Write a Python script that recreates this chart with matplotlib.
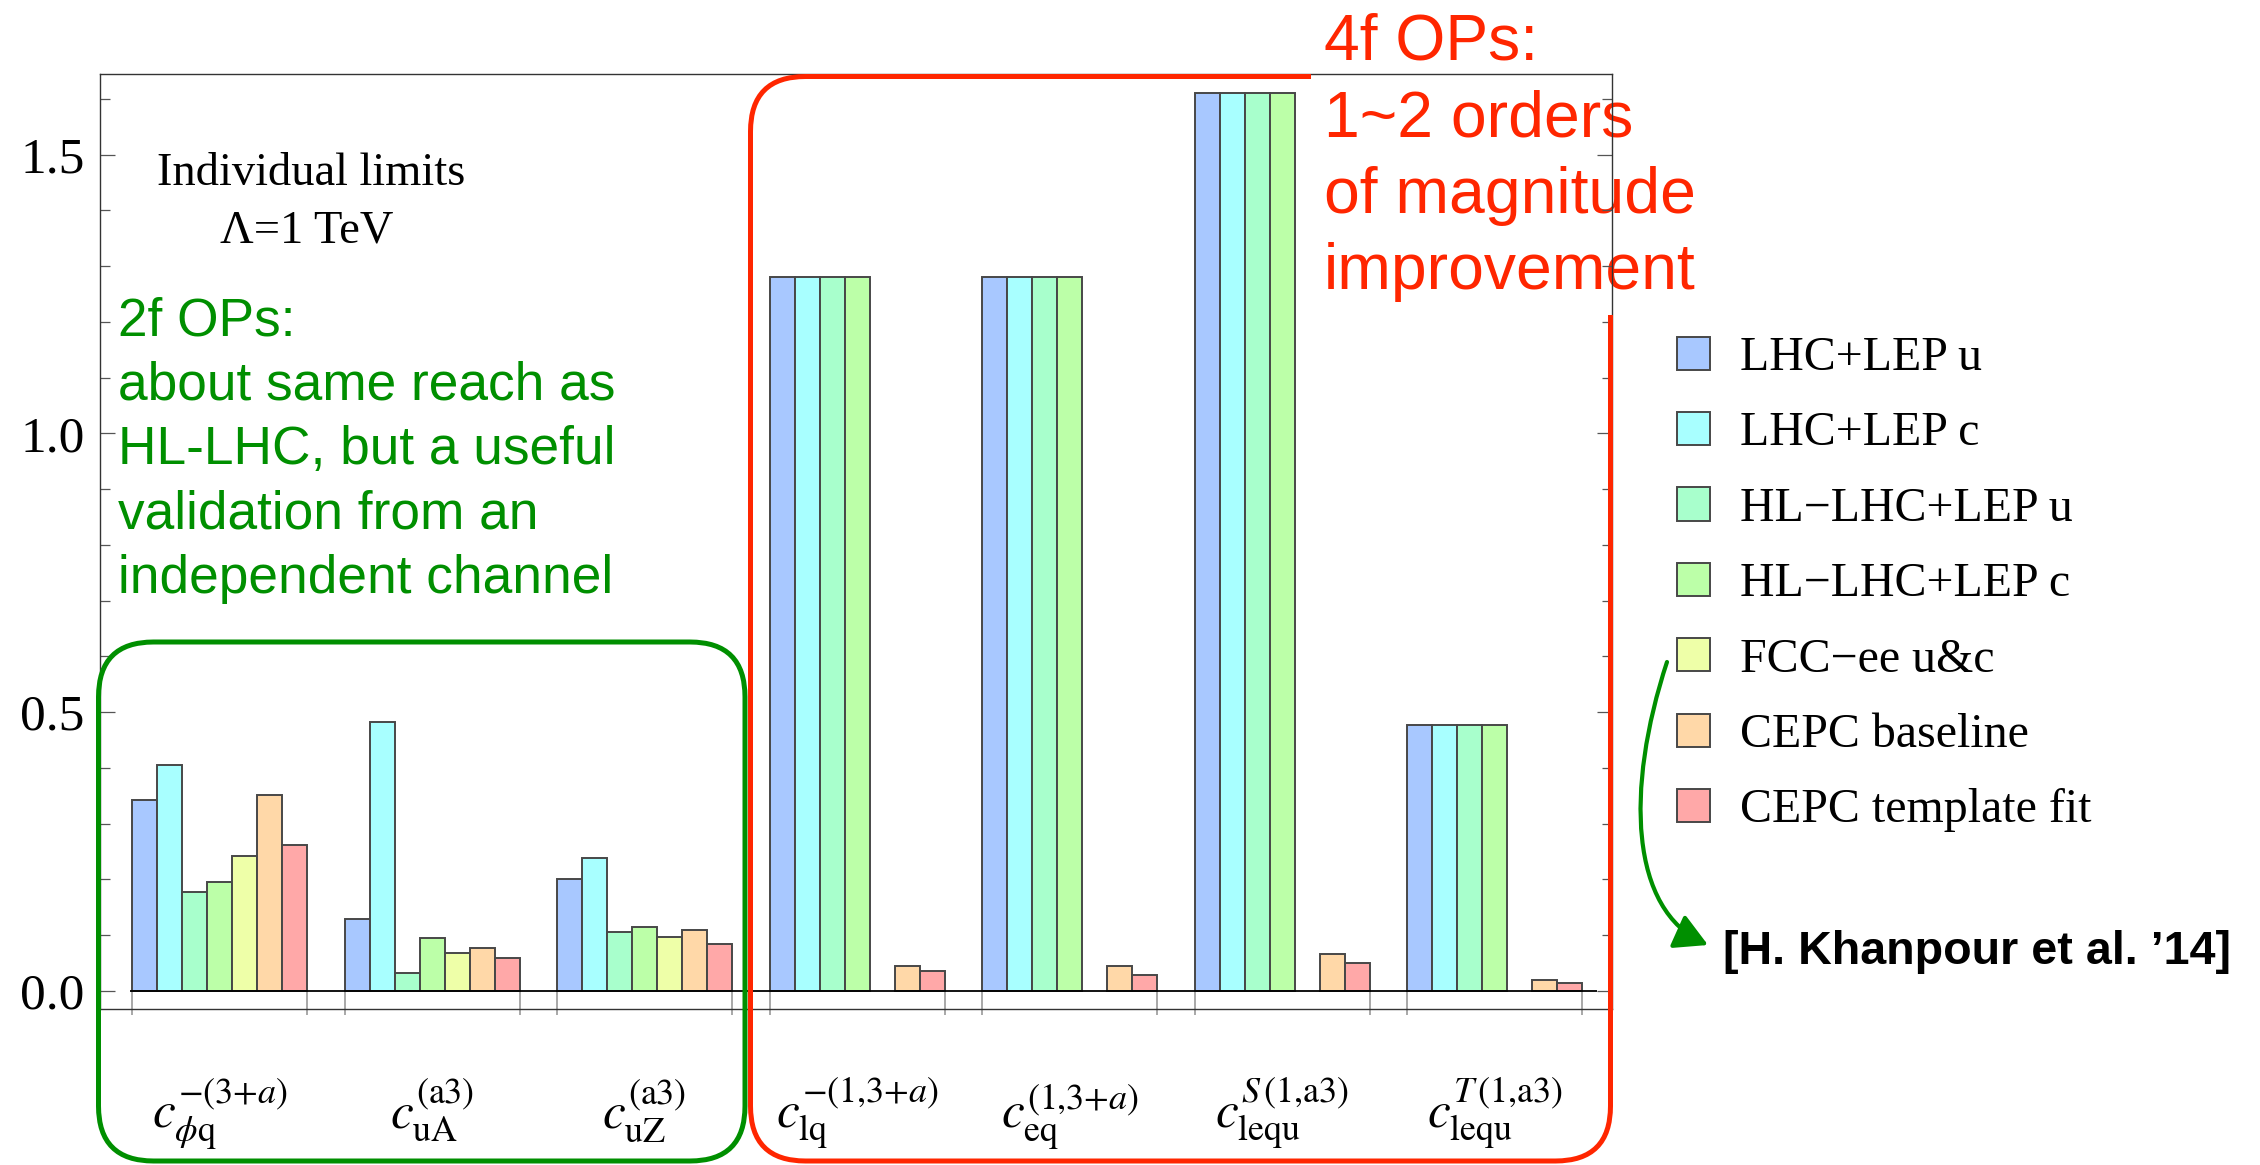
import numpy as np
import matplotlib.pyplot as plt
from matplotlib.patches import FancyBboxPatch, FancyArrowPatch
from matplotlib.path import Path
from matplotlib.ticker import MultipleLocator, FormatStrFormatter
from matplotlib.transforms import IdentityTransform, blended_transform_factory

plt.rcParams['font.family'] = ['Liberation Serif', 'DejaVu Serif']
plt.rcParams['mathtext.fontset'] = 'stix'

W, H = 2260, 1165

# operators (x tick labels)
operators = [r'$c_{\phi\mathrm{q}}^{-(3{+}a)}$',
             r'$c_{\mathrm{uA}}^{(\mathrm{a3})}$',
             r'$c_{\mathrm{uZ}}^{(\mathrm{a3})}$',
             r'$c_{\mathrm{lq}}^{-(1{,}3{+}a)}$',
             r'$c_{\mathrm{eq}}^{(1{,}3{+}a)}$',
             r'$c_{\mathrm{lequ}}^{S\,(1{,}\mathrm{a3})}$',
             r'$c_{\mathrm{lequ}}^{T\,(1{,}\mathrm{a3})}$']

series = ['LHC+LEP u', 'LHC+LEP c', 'HL\u2212LHC+LEP u', 'HL\u2212LHC+LEP c',
          'FCC\u2212ee u&c', 'CEPC baseline', 'CEPC template fit']
colors = ['#a8c8ff', '#a8ffff', '#a8ffcc', '#bcffa8', '#eeffa8', '#ffd8a8', '#ffa8a8']

# individual limits, Lambda = 1 TeV
lhc_lep_u = [0.342, 0.130, 0.201, 1.281, 1.281, 1.611, 0.477]
lhc_lep_c = [0.406, 0.483, 0.239, 1.281, 1.281, 1.611, 0.477]
hllhc_lep_u = [0.178, 0.033, 0.105, 1.281, 1.281, 1.611, 0.477]
hllhc_lep_c = [0.195, 0.095, 0.115, 1.281, 1.281, 1.611, 0.477]
fcc_ee = [0.242, 0.069, 0.097, np.nan, np.nan, np.nan, np.nan]
cepc_base = [0.351, 0.078, 0.110, 0.044, 0.044, 0.066, 0.019]
cepc_tmpl = [0.262, 0.060, 0.084, 0.036, 0.028, 0.051, 0.015]

values = [lhc_lep_u, lhc_lep_c, hllhc_lep_u, hllhc_lep_c, fcc_ee, cepc_base, cepc_tmpl]

GREEN = '#008f00'
RED = '#ff2600'


def fx(x):
    return x / W


def fy(y):
    return 1 - y / H


fig = plt.figure(figsize=(W / 100, H / 100), dpi=100)
ax = fig.add_axes([fx(100), fy(1009), 1512 / W, (1009 - 74) / H])

pitch = 8.5
nbar = len(series)
x0 = np.arange(len(operators)) * pitch
for j, (vals, col, lab) in enumerate(zip(values, colors, series)):
    vals = np.asarray(vals, dtype=float)
    ok = ~np.isnan(vals)
    ax.bar(x0[ok] + j + 0.5, vals[ok], width=1.0, color=col,
           edgecolor='#474747', linewidth=1.4, label=lab, zorder=2)

ax.set_xlim(-1.28, x0[-1] + nbar + 1.2)
ax.set_ylim(-0.0323, 1.6448)

# zero line and group edge marks
ax.hlines(0, x0[0] - 0.1, x0[-1] + nbar + 0.6, colors='black', lw=1.3, zorder=3)
edges = np.concatenate([x0, x0 + nbar])
ax.vlines(edges, -0.043, 0, colors='#9a9a9a', lw=1.2, clip_on=False, zorder=1)

ax.set_xticks([])
ax.set_yticks([0, 0.5, 1.0, 1.5])
ax.yaxis.set_major_formatter(FormatStrFormatter('%.1f'))
ax.yaxis.set_minor_locator(MultipleLocator(0.1))
ax.tick_params(axis='y', which='both', direction='in', right=True, labelright=False,
               color='#555555', width=0.9, labelsize=37, pad=11)
ax.tick_params(axis='y', which='major', length=10.8)
ax.tick_params(axis='y', which='minor', length=7.2)
for s in ax.spines.values():
    s.set_color('#333333')
    s.set_linewidth(1.0)
ax.patch.set_visible(False)

# operator labels below the frame
tr = blended_transform_factory(ax.transData, fig.transFigure)
for xc, lab in zip(x0 + nbar / 2, operators):
    ax.text(xc, fy(1128), lab, transform=tr, ha='center', va='baseline', fontsize=37)

# header inside the plot
fig.text(fx(311), fy(185), 'Individual limits', ha='center', va='baseline', fontsize=33.5)
fig.text(fx(307), fy(242), '\u039b=1 TeV', ha='center', va='baseline', fontsize=33.5)

# green comment
green_lines = ['2f OPs:', 'about same reach as', 'HL-LHC, but a useful',
               'validation from an', 'independent channel']
for i, line in enumerate(green_lines):
    fig.text(fx(118), fy(335.6 + i * 64.3), line, color=GREEN, fontsize=38.3,
             family='Liberation Sans', va='baseline', ha='left')

# red comment
red_lines = ['4f OPs:', '1~2 orders', 'of magnitude', 'improvement']
for i, line in enumerate(red_lines):
    fig.text(fx(1324), fy(59.5 + i * 76.6), line, color=RED, fontsize=46.3,
             family='Liberation Sans', va='baseline', ha='left', zorder=-1)

# rounded boxes
def rbox(x1, y1, x2, y2, color):
    p = FancyBboxPatch((x1, H - y2), x2 - x1, y2 - y1,
                       boxstyle='round,pad=0,rounding_size=55', fill=False,
                       edgecolor=color, lw=3.6, transform=IdentityTransform())
    fig.add_artist(p)
    return p


rbox(98.5, 642, 745, 1161, GREEN)
red = rbox(750.5, 76.5, 1610.5, 1161, RED)
clip = Path([(0, 0), (W, 0), (W, H - 315), (1311, H - 315), (1311, H), (0, H), (0, 0)])
red.set_clip_path(clip, IdentityTransform())

# legend
fig.legend(loc='upper left', bbox_to_anchor=(fx(1677), fy(336)), frameon=False,
           fontsize=34.5, handlelength=0.69, handleheight=0.69, handletextpad=0.62,
           labelspacing=0.655, borderpad=0, borderaxespad=0)

# reference
fig.text(fx(1723), fy(963.5), '[H. Khanpour et al. \u201914]', family='Liberation Sans',
         fontweight='bold', fontsize=33.6, va='baseline', ha='left')
arrow_path = Path([(1667, H - 662), (1625, H - 790), (1630, H - 910), (1708, H - 945)],
                  [Path.MOVETO, Path.CURVE4, Path.CURVE4, Path.CURVE4])
arr = FancyArrowPatch(path=arrow_path, arrowstyle='-|>,head_length=1.0,head_width=0.55',
                      mutation_scale=20, color=GREEN, lw=3, shrinkA=0, shrinkB=0,
                      transform=IdentityTransform())
fig.add_artist(arr)

fig.savefig('out.png', dpi=100)
